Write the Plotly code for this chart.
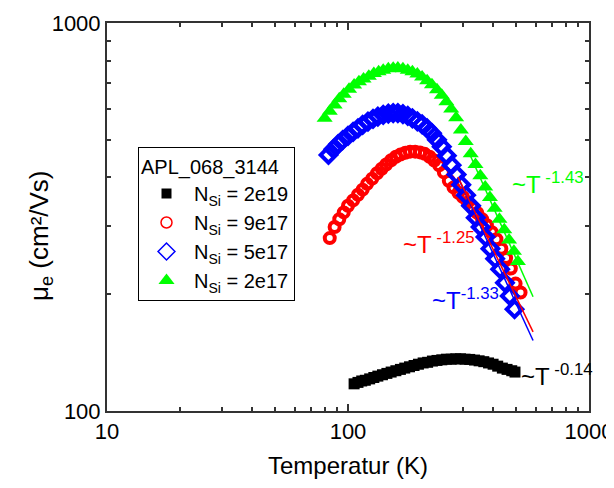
import plotly.graph_objects as go

# ---------------- data ----------------
T_2e19 = [106, 110, 114, 118, 123, 128, 133, 139, 145, 151, 158, 165, 172, 180, 188, 196,
          205, 214, 224, 234, 245, 256, 268, 280, 293, 306, 320, 335, 350, 366, 383, 400,
          418, 437, 457, 478, 493]
mu_2e19 = [117.5, 118.5, 119.5, 120, 121, 122, 123, 124, 125, 126, 127, 128, 129, 130, 131, 132,
           133, 133.5, 134.5, 135, 135.5, 136, 136, 136.3, 136.3, 136, 135.8, 135.3, 134.7, 134, 133, 132,
           130.5, 129, 128, 127, 126]

T_9e17 = [84, 88, 92, 96, 100, 105, 110, 115, 120, 126, 132, 138, 144, 151, 158, 165, 173,
          181, 190, 199, 208, 218, 228, 239, 250, 262, 274, 287, 300, 314, 329, 344, 360,
          377, 395, 413, 433, 453, 474, 496, 520]
mu_9e17 = [279, 298, 312, 325, 338, 349, 361, 372, 385, 397, 410, 421, 432, 443, 452, 458, 463,
           466, 466, 464, 460, 452, 442, 430, 412, 392, 377, 365, 356, 345, 334, 324, 312,
           301, 289, 277, 262, 248, 233, 213, 202]

T_5e17 = [83, 87, 91, 95, 100, 105, 110, 115, 121, 127, 133, 140, 147, 154, 161, 169, 177,
          185, 194, 203, 213, 223, 234, 245, 257, 269, 282, 295, 309, 324, 339, 355, 372,
          390, 408, 428, 448, 469, 491]
mu_5e17 = [457, 473, 487, 499, 512, 524, 535, 546, 557, 566, 574, 580, 584, 586, 586, 582, 576,
           568, 558, 548, 535, 520, 500, 480, 455, 430, 407, 383, 360, 338, 315, 298, 281,
           262, 247, 232, 214, 198, 183]

T_2e17 = [80, 84, 88, 92, 96, 101, 106, 111, 116, 122, 128, 134, 140, 147, 154, 161, 169,
          177, 185, 194, 203, 213, 223, 234, 245, 256, 268, 281, 294, 308, 323, 338, 354,
          371, 388, 406, 425, 445, 466, 488, 507]
mu_2e17 = [568, 592, 615, 638, 655, 675, 692, 706, 717, 729, 741, 749, 756, 762, 765, 766, 762,
           756, 749, 739, 726, 710, 693, 673, 651, 627, 600, 570, 530, 495, 460, 432, 404,
           378, 355, 333, 312, 293, 276, 258, 243]

# power-law fit lines (end points)
fit_T_9e17 = [286, 586]
fit_mu_9e17 = [401, 160]
fit_T_5e17 = [286, 586]
fit_mu_5e17 = [400, 152]
fit_T_2e17 = [321, 586]
fit_mu_2e17 = [457, 197]

legend_names = ["N<sub>Si</sub> = 2e19", "N<sub>Si</sub> = 9e17",
                "N<sub>Si</sub> = 5e17", "N<sub>Si</sub> = 2e17"]
x_ticks = [10, 100, 1000]
y_ticks = [100, 1000]
x_minor = [20, 30, 40, 50, 60, 70, 80, 90, 200, 300, 400, 500, 600, 700, 800, 900]
y_minor = [200, 300, 400, 500, 600, 700, 800, 900]

FONT = "Liberation Sans, Arial, sans-serif"
AX = "#333333"

# page has an 8px body margin: plot area (page px) x 107..589, y 23..411
L, T0, PW, PH = 99, 15, 482, 388

fig = go.Figure()

# data traces (not in legend)
fig.add_trace(go.Scatter(x=T_2e19, y=mu_2e19, mode="markers", showlegend=False,
                         marker=dict(symbol="square", size=11, color="black")))
fig.add_trace(go.Scatter(x=T_9e17, y=mu_9e17, mode="markers", showlegend=False,
                         marker=dict(symbol="circle-open", size=10, color="#ff0000",
                                     line=dict(width=4, color="#ff0000"))))
fig.add_trace(go.Scatter(x=T_5e17, y=mu_5e17, mode="markers", showlegend=False,
                         marker=dict(symbol="diamond-open", size=12, color="#0000ff",
                                     line=dict(width=4, color="#0000ff"))))
fig.add_trace(go.Scatter(x=fit_T_2e17, y=fit_mu_2e17, mode="lines", showlegend=False,
                         line=dict(color="#00ff00", width=1.5)))
fig.add_trace(go.Scatter(x=T_2e17, y=mu_2e17, mode="markers", showlegend=False,
                         marker=dict(symbol="triangle-up", size=14, color="#00ff00")))
fig.add_trace(go.Scatter(x=fit_T_5e17, y=fit_mu_5e17, mode="lines", showlegend=False,
                         line=dict(color="#0000ff", width=1.5)))
fig.add_trace(go.Scatter(x=fit_T_9e17, y=fit_mu_9e17, mode="lines", showlegend=False,
                         line=dict(color="#ff0000", width=1.5)))

# legend-only entries
leg_styles = [
    dict(symbol="square", size=10, color="black"),
    dict(symbol="circle-open", size=11, color="#ff0000", line=dict(width=1.5, color="#ff0000")),
    dict(symbol="diamond-open", size=13, color="#0000ff", line=dict(width=1.5, color="#0000ff")),
    dict(symbol="triangle-up", size=14, color="#00ff00"),
]
for name, st in zip(legend_names, leg_styles):
    fig.add_trace(go.Scatter(x=[None], y=[None], mode="markers", name=name, marker=st))

def ann(px, py, text, color):
    # px, py in page pixel coords -> axis log coordinates
    return dict(x=1 + (px - 107) / 241, y=2 + (411 - py) / 388, xref="x", yref="y",
                text=text, showarrow=False, xanchor="left", yanchor="middle",
                font=dict(family=FONT, size=24, color=color))

annotations = [
    ann(510, 183, "~T<sup> -1.43</sup>", "#00ff00"),
    ann(401, 243, "~T<sup> -1.25</sup>", "#ff0000"),
    ann(430, 299, "~T<sup>-1.33</sup>", "#0000ff"),
    ann(519, 375, "~T<sup> -0.14</sup>", "black"),
    dict(x=(40 - 107) / PW, y=(411 - 236) / PH, xref="paper", yref="paper",
         text="μ<sub>e</sub> (cm²/Vs)", textangle=-90, showarrow=False,
         xanchor="center", yanchor="middle", font=dict(family=FONT, size=26, color="black")),
    dict(x=0.5, y=(411 - 465) / PH, xref="paper", yref="paper",
         text="Temperatur (K)", showarrow=False,
         xanchor="center", yanchor="middle", font=dict(family=FONT, size=24, color="black")),
]

axis_common = dict(type="log", showline=True, linecolor=AX, linewidth=2, mirror="allticks",
                   ticks="inside", ticklen=7, tickwidth=1.5, tickcolor=AX, showgrid=False,
                   zeroline=False, automargin=False,
                   tickfont=dict(family=FONT, size=22, color="black"))

fig.update_layout(
    template="none",
    width=606, height=480,
    margin=dict(l=L, r=606 - L - PW, t=T0, b=480 - T0 - PH),
    paper_bgcolor="white", plot_bgcolor="white",
    xaxis=dict(axis_common, range=[1, 3], tickmode="array", tickvals=x_ticks,
               ticktext=[str(v) for v in x_ticks],
               minor=dict(tickmode="array", tickvals=x_minor, ticks="inside", ticklen=4,
                          tickwidth=1.5, tickcolor=AX, showgrid=False)),
    yaxis=dict(axis_common, range=[2, 3], tickmode="array", tickvals=y_ticks,
               ticktext=[str(v) for v in y_ticks],
               minor=dict(tickmode="array", tickvals=y_minor, ticks="inside", ticklen=4,
                          tickwidth=1.5, tickcolor=AX, showgrid=False)),
    legend=dict(x=(138 - 107) / PW, y=(411 - 147) / PH, xanchor="left", yanchor="top",
                bgcolor="white", bordercolor="black", borderwidth=1,
                title=dict(text="APL_068_3144", font=dict(family=FONT, size=20, color="black")),
                font=dict(family=FONT, size=20, color="black"),
                tracegroupgap=0, itemsizing="trace", itemwidth=45),
    annotations=annotations,
    showlegend=True,
)

fig.write_html("out.html")
